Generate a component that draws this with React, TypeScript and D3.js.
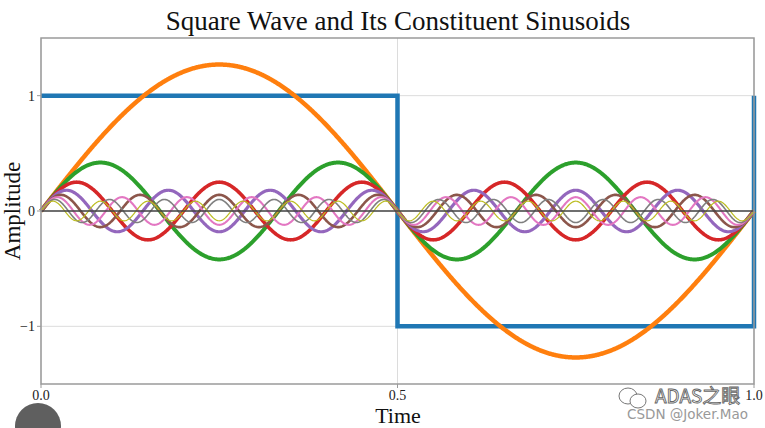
import React from "react";
import * as d3 from "d3";

const W = 765;
const H = 428;

// Square wave breakpoints (time, level)
const squareTimes = [0, 0.5, 0.5, 1.0, 1.0];
const squareLevels = [1, 1, -1, -1, 1];

// Constituent sinusoids: harmonic number and amplitude
const harmonics = [1, 3, 5, 7, 9, 11, 13, 15];
const amplitudes = [1.27, 0.42, 0.25, 0.18, 0.14, 0.12, 0.1, 0.085];
const colors = ["#ff7f0e", "#2ca02c", "#d62728", "#9467bd", "#8c564b", "#e377c2", "#7f7f7f", "#bcbd22"];
const widths = [4.5, 4, 3.6, 3.2, 2.6, 2.1, 1.6, 1.2];

const xTicks = [0, 0.5, 1.0];
const xTickLabels = ["0.0", "0.5", "1.0"];
const yTicks = [1, 0, -1];
const yTickLabels = ["1", "0", "\u22121"];

const FONT = "'Liberation Serif', 'DejaVu Serif', serif";

export default function App() {
  const x = d3.scaleLinear().domain([0, 1]).range([41, 754]);
  const y = d3.scaleLinear().domain([-1.5, 1.5]).range([384, 38]);

  const samples = d3.range(0, 1.0005, 0.001);
  const line = d3
    .line<[number, number]>()
    .x((d) => x(d[0]))
    .y((d) => y(d[1]));

  const squarePts: [number, number][] = squareTimes.map((t, i) => [t, squareLevels[i]]);

  return (
    <svg
      width={W}
      height={H}
      style={{ position: "absolute", left: 0, top: 0, background: "#fff" }}
    >
      <rect x={0} y={0} width={W} height={H} fill="#fff" />
      {/* grid */}
      {yTicks.map((t) => (
        <line key={"gy" + t} x1={x(0)} x2={x(1)} y1={y(t)} y2={y(t)} stroke="#dcdcdc" strokeWidth={1} />
      ))}
      {xTicks.map((t) => (
        <line key={"gx" + t} x1={x(t)} x2={x(t)} y1={y(1.5)} y2={y(-1.5)} stroke="#dcdcdc" strokeWidth={1} />
      ))}
      {/* square wave */}
      <path d={line(squarePts) || ""} fill="none" stroke="#1f77b4" strokeWidth={4.5} />
      {/* sinusoids */}
      {harmonics.map((k, i) => {
        const pts: [number, number][] = samples.map((t) => [t, amplitudes[i] * Math.sin(2 * Math.PI * k * t)]);
        return (
          <path key={"h" + k} d={line(pts) || ""} fill="none" stroke={colors[i]} strokeWidth={widths[i]} strokeLinejoin="round" />
        );
      })}
      {/* zero line */}
      <line x1={x(0)} x2={x(1)} y1={y(0)} y2={y(0)} stroke="#444" strokeWidth={1.5} />
      {/* frame */}
      <rect x={x(0)} y={y(1.5)} width={x(1) - x(0)} height={y(-1.5) - y(1.5)} fill="none" stroke="#9a9a9a" strokeWidth={1.5} />
      {/* y ticks */}
      {yTicks.map((t, i) => (
        <g key={"yt" + t}>
          <line x1={x(0) - 4} x2={x(0)} y1={y(t)} y2={y(t)} stroke="#9a9a9a" strokeWidth={1} />
          <text x={x(0) - 6} y={y(t)} dy="0.35em" textAnchor="end" fontFamily={FONT} fontSize={14} fill="#222">
            {yTickLabels[i]}
          </text>
        </g>
      ))}
      {/* x ticks */}
      {xTicks.map((t, i) => (
        <g key={"xt" + t}>
          <line x1={x(t)} x2={x(t)} y1={y(-1.5)} y2={y(-1.5) + 4} stroke="#9a9a9a" strokeWidth={1} />
          <text x={x(t)} y={y(-1.5) + 16} textAnchor="middle" fontFamily={FONT} fontSize={14} fill="#222">
            {xTickLabels[i]}
          </text>
        </g>
      ))}
      {/* title and labels */}
      <text x={398} y={30} textAnchor="middle" fontFamily={FONT} fontSize={27} fill="#111">
        Square Wave and Its Constituent Sinusoids
      </text>
      <text x={398} y={423} textAnchor="middle" fontFamily={FONT} fontSize={22} fill="#111">
        Time
      </text>
      <text
        transform={`translate(20, ${y(0)}) rotate(-90)`}
        textAnchor="middle"
        fontFamily={FONT}
        fontSize={23}
        fill="#111"
      >
        Amplitude
      </text>
      {/* watermark */}
      <g>
        <ellipse cx={628} cy={396} rx={9} ry={8} fill="#fff" stroke="#777" strokeWidth={1} />
        <ellipse cx={638} cy={401} rx={8} ry={7} fill="#fff" stroke="#777" strokeWidth={1} />
        <text x={655} y={403} fontFamily="'Noto Sans CJK SC', 'DejaVu Sans', sans-serif" fontSize={19} fill="#fff" stroke="#666" strokeWidth={0.9}>
          ADAS之眼
        </text>
      </g>
      <text x={627} y={419} fontFamily="'DejaVu Sans', sans-serif" fontSize={13.5} fill="#999">
        CSDN @Joker.Mao
      </text>
      <circle cx={38} cy={426} r={23} fill="#5f5f5f" />
    </svg>
  );
}
